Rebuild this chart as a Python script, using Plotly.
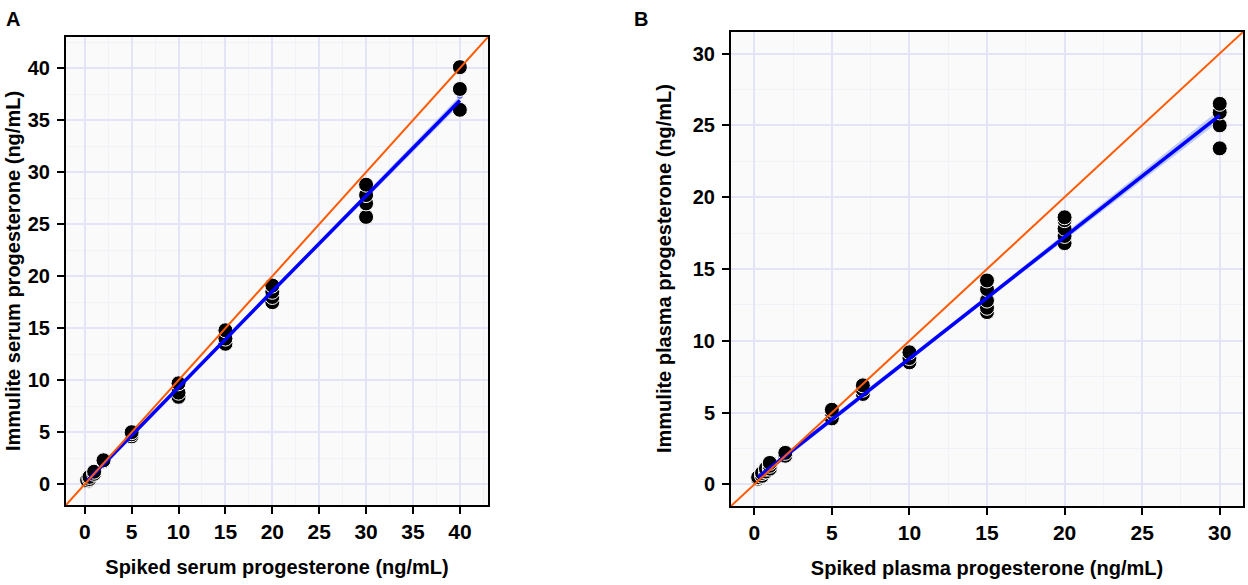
import plotly.graph_objects as go

# panel A - serum
serum_x = [0.25, 0.25, 0.5, 0.5, 1, 1, 2, 2, 5, 5, 5, 10, 10, 10, 15, 15, 15,
           20, 20, 20, 20, 30, 30, 30, 30, 40, 40, 40]
serum_y = [0.3, 0.4, 0.5, 0.7, 1.0, 1.2, 2.2, 2.3, 4.6, 4.8, 5.0, 8.4, 8.8, 9.7,
           13.5, 14.0, 14.8, 17.5, 18.0, 18.5, 19.1, 25.7, 27.0, 27.8, 28.8,
           36.0, 38.0, 40.1]
serum_fit_x = [0.25, 20, 40]
serum_fit_y = [0.3, 18.55, 36.9]
serum_fit_lo = [0.05, 18.4, 36.45]
serum_fit_hi = [0.55, 18.7, 37.35]

# panel B - plasma
plasma_x = [0.25, 0.25, 0.5, 0.5, 0.75, 0.75, 1, 1, 1, 2, 2, 5, 5, 5, 7, 7, 7,
            10, 10, 10, 15, 15, 15, 15, 15, 20, 20, 20, 20, 20, 30, 30, 30, 30]
plasma_y = [0.4, 0.5, 0.6, 0.8, 0.9, 1.1, 1.1, 1.3, 1.5, 2.0, 2.2, 4.6, 5.0, 5.2,
            6.3, 6.6, 6.9, 8.5, 8.8, 9.2, 12.0, 12.3, 12.8, 13.6, 14.2,
            16.8, 17.3, 17.8, 18.4, 18.6, 23.4, 25.0, 25.9, 26.5]
plasma_fit_x = [0.25, 15, 30]
plasma_fit_y = [0.5, 13.0, 25.7]
plasma_fit_lo = [0.3, 12.85, 25.3]
plasma_fit_hi = [0.7, 13.15, 26.1]

range_a = [-2, 43]
range_b = [-1.5, 31.5]

W, H = 1248, 585
fnt = "Liberation Sans, Arial"
fig = go.Figure()


def add_panel(xs, ys, fx, fy, flo, fhi, rng, xa, ya):
    # confidence band
    fig.add_trace(go.Scatter(x=fx + fx[::-1], y=fhi + flo[::-1], fill="toself",
                             fillcolor="rgba(120,150,240,0.45)", line=dict(width=0),
                             xaxis=xa, yaxis=ya, hoverinfo="skip", showlegend=False))
    fig.add_trace(go.Scatter(x=xs, y=ys, mode="markers",
                             marker=dict(size=15, color="black", line=dict(color="white", width=1)),
                             xaxis=xa, yaxis=ya, showlegend=False))
    fig.add_trace(go.Scatter(x=fx, y=fy, mode="lines", line=dict(color="#0000ff", width=3.5),
                             xaxis=xa, yaxis=ya, showlegend=False))
    fig.add_trace(go.Scatter(x=rng, y=rng, mode="lines", line=dict(color="#ff5a00", width=2),
                             xaxis=xa, yaxis=ya, showlegend=False))


add_panel(serum_x, serum_y, serum_fit_x, serum_fit_y, serum_fit_lo, serum_fit_hi, range_a, "x", "y")
add_panel(plasma_x, plasma_y, plasma_fit_x, plasma_fit_y, plasma_fit_lo, plasma_fit_hi, range_b, "x2", "y2")


def ax(rng, dom, anchor, lblstand, fsize, title=None):
    d = dict(range=rng, domain=dom, anchor=anchor, dtick=5, tick0=0, automargin=False,
             showgrid=True, gridcolor="#e4e4f8", gridwidth=1.5, zeroline=False,
             minor=dict(dtick=2.5, showgrid=True, gridcolor="#f1f1f8", gridwidth=1),
             showline=True, linecolor="black", linewidth=2, mirror=True,
             ticks="outside", ticklen=7, tickcolor="black", tickwidth=1.5,
             ticklabelstandoff=lblstand,
             tickfont=dict(family=fnt, size=fsize, color="black", weight="bold"))
    if title:
        d["title"] = dict(text=title, standoff=18,
                          font=dict(family=fnt, size=20, color="black", weight="bold"))
    return d


def xdom(a, b):
    return [a / W, b / W]


def ydom(top, bot):
    return [1 - bot / H, 1 - top / H]


def label(text, x, y, size=20, angle=0):
    return dict(text=text, x=x / W, y=1 - y / H, xref="paper", yref="paper", showarrow=False,
                xanchor="center", yanchor="middle", textangle=angle,
                font=dict(family=fnt, size=size, color="black", weight="bold"))


fig.update_layout(
    width=W, height=H,
    margin=dict(l=0, r=0, t=0, b=0),
    paper_bgcolor="white", plot_bgcolor="#fafafa",
    xaxis=ax(range_a, xdom(66, 488), "y", 0, 21, "Spiked serum progesterone (ng/mL)"),
    yaxis=ax(range_a, ydom(37, 505), "x", 3, 20),
    xaxis2=ax(range_b, xdom(731, 1243), "y2", 0, 21, "Spiked plasma progesterone (ng/mL)"),
    yaxis2=ax(range_b, ydom(32, 506), "x2", 3, 20),
    annotations=[
        label("A", 13, 19),
        label("B", 641, 19),
        label("Immulite serum progesterone (ng/mL)", 13, 271, angle=-90),
        label("Immulite plasma progesterone (ng/mL)", 664, 269, angle=-90),
    ],
)

# drop the page's default body margin so the figure sits at the window corner
fig.write_html("out.html", config={"displayModeBar": False},
               post_script="document.body.style.margin='0';")
